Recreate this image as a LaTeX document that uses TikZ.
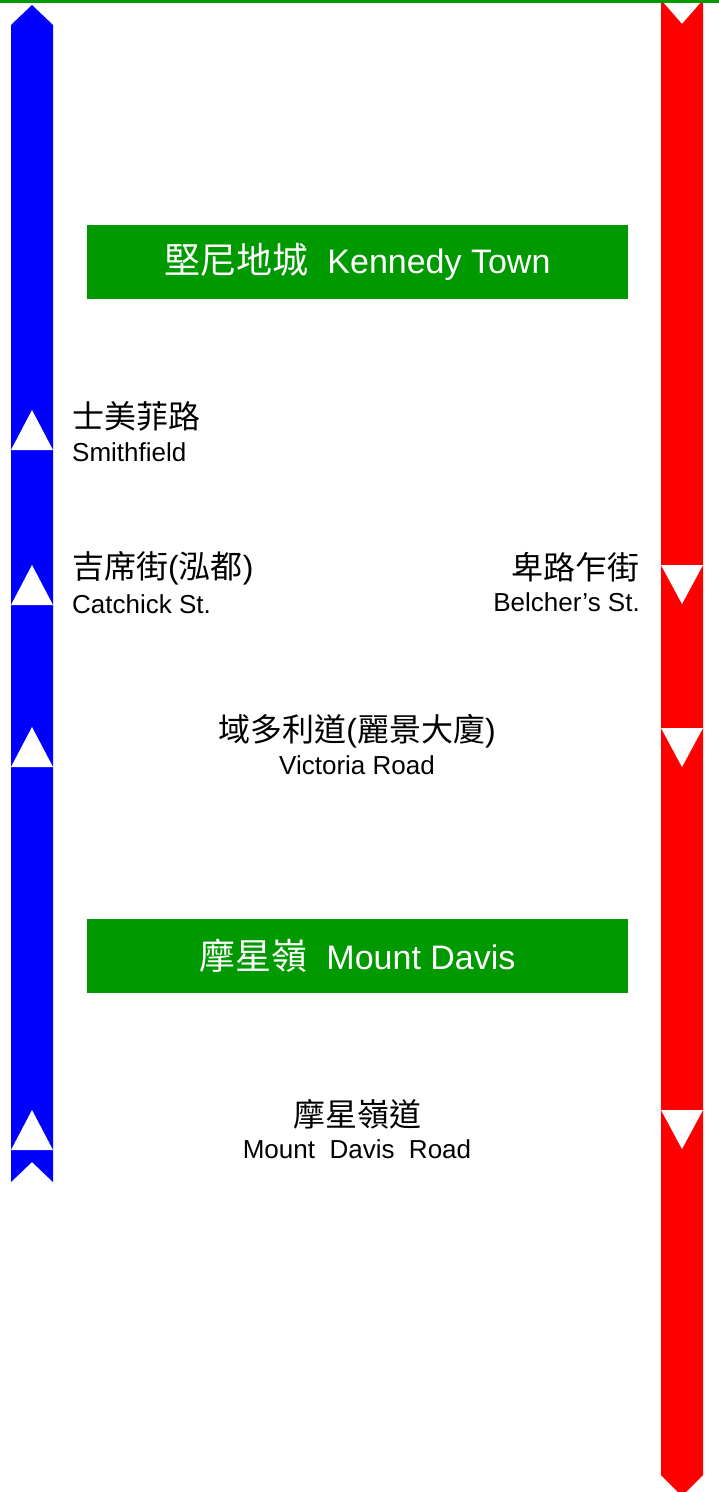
\documentclass[tikz,border=0pt]{standalone}
\usepackage{fontspec}
\setmainfont{Liberation Sans}
\newfontfamily\cjk{Noto Sans CJK TC}
\definecolor{lgreen}{RGB}{0,153,0}
\definecolor{lblue}{RGB}{0,0,255}
\definecolor{lred}{RGB}{255,0,0}
\tikzset{
  termbox/.style={fill=lgreen, text=white, minimum width=541pt, minimum height=74pt, inner sep=0pt,
    font=\fontsize{34}{40}\selectfont},
  cjkl/.style={inner sep=0pt, font=\fontsize{32}{36}\selectfont},
  engl/.style={inner sep=0pt, font=\fontsize{26}{30}\selectfont},
  uptri/.style={fill=white},
}
\newcommand{\bigc}[1]{{\cjk\fontsize{36}{40}\selectfont #1}}
\begin{document}
\begin{tikzpicture}[x=1pt,y=-1pt]
\useasboundingbox (0,0) rectangle (719,1492);
% blue (upward) line
\fill[lblue] (11,25) -- (32,5) -- (53,25) -- (53,1182) -- (32,1162) -- (11,1182) -- cycle;
\foreach \t in {410,565,727,1110}
  \fill[white] (11,{\t+40}) -- (32,\t) -- (53,{\t+40}) -- cycle;
% red (downward) line
\fill[lred] (661,0) -- (682,24) -- (703,0) -- (703,1475) -- (682,1496) -- (661,1475) -- cycle;
\foreach \t in {565,728,1110}
  \fill[white] (661,\t) -- (703,\t) -- (682,{\t+39}) -- cycle;
% top green line
\fill[lgreen] (0,0) rectangle (719,3);
% terminus boxes
\node[termbox] (kt) at (357.5,262) {\bigc{堅尼地城}~~Kennedy Town};
\node[termbox] (md) at (357.5,956) {\bigc{摩星嶺}~~Mount Davis};
% stops
\node[cjkl, anchor=west] (smc) at (72,416) {\cjk 士美菲路};
\node[engl, anchor=base west] (sme) at (72,461) {Smithfield};
\node[cjkl, anchor=west] (cac) at (72,568) {{\cjk 吉席街}({\cjk 泓都})};
\node[engl, anchor=base west] (cae) at (72,613) {Catchick St.};
\node[cjkl, anchor=east] (bec) at (640,567) {\cjk 卑路乍街};
\node[engl, anchor=base east] (bee) at (640,611) {Belcher’s St.};
\node[cjkl] (vic) at (357,731) {{\cjk 域多利道}({\cjk 麗景大廈})};
\node[engl, anchor=base] (vie) at (357,774) {Victoria Road};
\node[cjkl] (mdc) at (357,1114) {\cjk 摩星嶺道};
\node[engl, anchor=base] (mde) at (357,1158) {Mount~~Davis~~Road};
\end{tikzpicture}
\end{document}
